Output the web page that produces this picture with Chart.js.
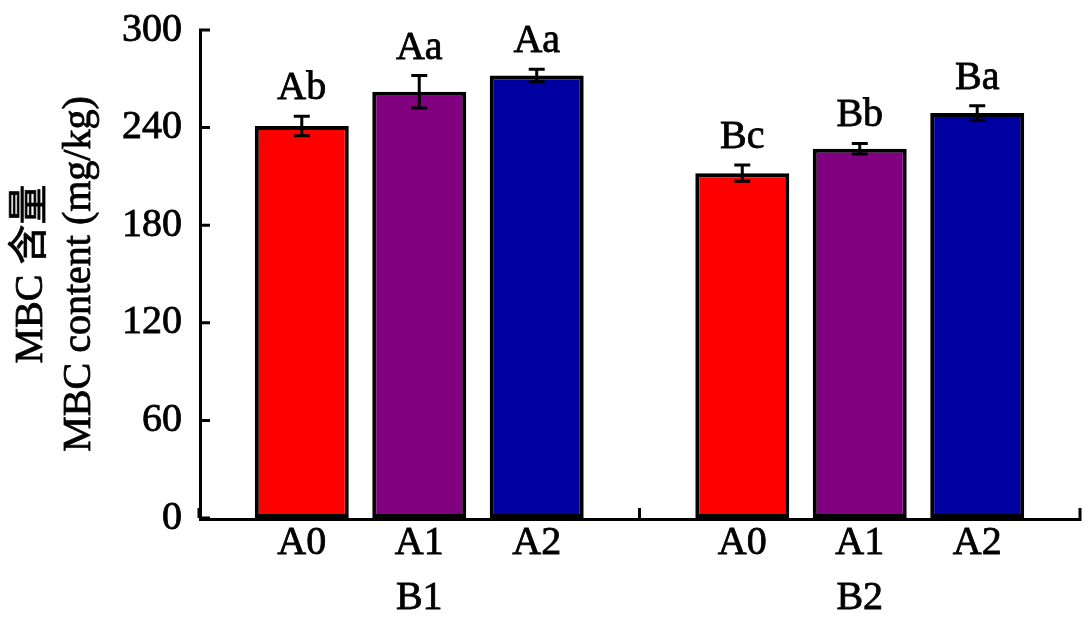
<!DOCTYPE html>
<html>
<head>
<meta charset="utf-8">
<script src="https://cdn.jsdelivr.net/npm/chart.js@4.4.0/dist/chart.umd.min.js"></script>
<style>
  html, body { margin: 0; padding: 0; background: #fff; }
  #wrap { width: 1091px; height: 629px; }
</style>
</head>
<body>
<div id="wrap"><canvas id="mbcChart"></canvas></div>
<script>
// Data
const groups = ['B1', 'B2'];
const treatments = ['A0', 'A1', 'A2'];
const colors = ['#ff0000', '#800080', '#0000a0'];
const valuesA0 = [241, 212];
const valuesA1 = [262, 227];
const valuesA2 = [272, 249];
const errorsA0 = [6, 5];
const errorsA1 = [10, 3.3];
const errorsA2 = [3.8, 4.5];
const lettersA0 = ['Ab', 'Bc'];
const lettersA1 = ['Aa', 'Bb'];
const lettersA2 = ['Aa', 'Ba'];
const yTicks = [0, 60, 120, 180, 240, 300];

const values = [valuesA0, valuesA1, valuesA2];
const errors = [errorsA0, errorsA1, errorsA2];
const letters = [lettersA0, lettersA1, lettersA2];

const serif = '"Liberation Serif", "Times New Roman", serif';
const cjk = '"Liberation Serif", "Noto Sans CJK SC", serif';

// heavier text like the original figure
function heavyText(ctx, txt, x, y) {
    ctx.fillText(txt, x, y);
    ctx.lineWidth = 0.8;
    ctx.strokeText(txt, x, y);
}

// Error bars, letters, treatment labels, axes with inward ticks, y title
const decorations = {
    id: 'decorations',
    afterDatasetsDraw(chart) {
        const ctx = chart.ctx;
        const area = chart.chartArea;
        const yScale = chart.scales.y;
        const xScale = chart.scales.x;
        ctx.save();
        ctx.strokeStyle = '#000';
        ctx.fillStyle = '#000';

        chart.data.datasets.forEach((ds, i) => {
            const meta = chart.getDatasetMeta(i);
            meta.data.forEach((bar, j) => {
                const v = values[i][j];
                const e = errors[i][j];
                const x = bar.x;
                const yTop = yScale.getPixelForValue(v + e);
                const yBot = yScale.getPixelForValue(v - e);
                ctx.lineWidth = 3;
                ctx.beginPath();
                ctx.moveTo(x, yTop);
                ctx.lineTo(x, yBot);
                ctx.moveTo(x - 8, yTop);
                ctx.lineTo(x + 8, yTop);
                ctx.moveTo(x - 8, yBot);
                ctx.lineTo(x + 8, yBot);
                ctx.stroke();

                ctx.font = '40px ' + serif;
                ctx.textAlign = 'center';
                ctx.textBaseline = 'alphabetic';
                heavyText(ctx, letters[i][j], x, yTop - 17);

                ctx.textBaseline = 'middle';
                heavyText(ctx, treatments[i], x, 543);
            });
        });

        // axes
        ctx.lineWidth = 3;
        ctx.beginPath();
        ctx.moveTo(area.left + 1.5, area.top);
        ctx.lineTo(area.left + 1.5, area.bottom + 1.5);
        ctx.lineTo(area.right + 1.5, area.bottom + 1.5);
        ctx.stroke();

        // inward ticks
        ctx.beginPath();
        yTicks.forEach(t => {
            const y = yScale.getPixelForValue(t);
            ctx.moveTo(area.left, y);
            ctx.lineTo(area.left + 11, y);
        });
        [-0.5, 0.5, 1.5].forEach(t => {
            const x = xScale.getPixelForValue(t);
            ctx.moveTo(x, area.bottom);
            ctx.lineTo(x, area.bottom - 10);
        });
        ctx.stroke();

        // y axis title, two lines
        ctx.translate(0, (area.top + area.bottom) / 2);
        ctx.rotate(-Math.PI / 2);
        ctx.textAlign = 'center';
        ctx.textBaseline = 'middle';
        ctx.font = '40px ' + cjk;
        heavyText(ctx, 'MBC 含量', 0, 31);
        ctx.font = '40px ' + serif;
        heavyText(ctx, 'MBC content (mg/kg)', 0, 79);
        ctx.restore();
    }
};

const ctx = document.getElementById('mbcChart').getContext('2d');
const mbcChart = new Chart(ctx, {
    type: 'bar',
    data: {
        labels: groups,
        datasets: treatments.map((t, i) => ({
            label: t,
            data: values[i],
            backgroundColor: colors[i],
            borderColor: '#000',
            borderWidth: 4,
            borderSkipped: false,
            categoryPercentage: 0.8,
            barPercentage: 0.8
        }))
    },
    options: {
        responsive: true,
        maintainAspectRatio: false,
        animation: false,
        layout: {
            padding: { left: 0, right: 11, top: 30, bottom: 0 }
        },
        plugins: {
            legend: { display: false },
            tooltip: { enabled: false }
        },
        scales: {
            x: {
                grid: { display: false, drawTicks: false },
                border: { display: false },
                ticks: {
                    color: '#000',
                    textStrokeColor: '#000',
                    textStrokeWidth: 0.8,
                    padding: 56,
                    font: { family: serif, size: 40 }
                },
                afterFit(scale) { scale.height = 111; }
            },
            y: {
                min: 0,
                max: 300,
                grid: { display: false, drawTicks: false },
                border: { display: false },
                ticks: {
                    stepSize: 60,
                    color: '#000',
                    textStrokeColor: '#000',
                    textStrokeWidth: 0.8,
                    padding: 17,
                    font: { family: serif, size: 40 }
                },
                afterFit(scale) {
                    scale.width = 199;
                    scale.paddingTop = 0;
                    scale.paddingBottom = 0;
                }
            }
        }
    },
    plugins: [decorations]
});
</script>
</body>
</html>
